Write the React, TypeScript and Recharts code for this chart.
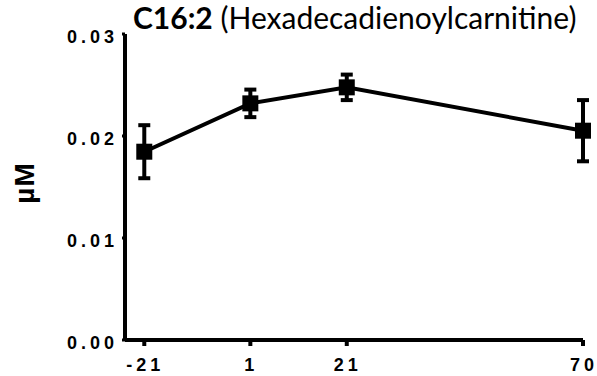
import { LineChart, Line, XAxis, YAxis, ErrorBar } from 'recharts';

const days = [-21, 1, 21, 70];
const means = [0.01846, 0.0232, 0.02477, 0.02052];
const errors = [0.0026, 0.00135, 0.00125, 0.003];

const xTicks = [-21, 1, 21, 70];
const yTicks = [0, 0.01, 0.02, 0.03];

const data = days.map((d, i) => ({ day: d, value: means[i], err: errors[i] }));

const SquareDot = (props: any) => {
  const { cx, cy } = props;
  if (cx == null || cy == null) return null;
  return <rect x={cx - 8} y={cy - 8} width={16} height={16} fill="#000" />;
};

const FONT = 'Liberation Sans, Arial, sans-serif';

const XTick = (props: any) => {
  const { x, y, payload } = props;
  return (
    <text
      x={x + 1}
      y={y + 23}
      textAnchor="middle"
      fontFamily={FONT}
      fontWeight={700}
      fontSize={18}
      letterSpacing={4}
      fill="#000"
    >
      {payload.value}
    </text>
  );
};

const YTick = (props: any) => {
  const { x, y, payload } = props;
  return (
    <text
      x={x - 2}
      y={y + 9}
      textAnchor="end"
      fontFamily={FONT}
      fontWeight={700}
      fontSize={18}
      letterSpacing={4}
      fill="#000"
    >
      {Number(payload.value).toFixed(2)}
    </text>
  );
};

export default function App() {
  return (
    <div style={{ position: 'absolute', left: 0, top: 0, width: 597, height: 376, background: '#fff' }}>
      <div
        style={{
          position: 'absolute',
          left: 133,
          top: -1,
          fontFamily: 'Lato, sans-serif',
          fontSize: 30,
          lineHeight: '36px',
          color: '#000',
          whiteSpace: 'nowrap',
        }}
      >
        <b>C16:2</b> (Hexadecadienoylcarnitine)
      </div>
      <div
        style={{
          position: 'absolute',
          left: 25,
          top: 183,
          transform: 'translate(-50%, -50%) rotate(-90deg)',
          fontFamily: FONT,
          fontWeight: 700,
          fontSize: 28,
          letterSpacing: 1,
          whiteSpace: 'nowrap',
        }}
      >
        µM
      </div>
      <LineChart width={597} height={376} data={data} margin={{ top: 34, right: 14, bottom: 0, left: 0 }}>
        <XAxis
          dataKey="day"
          type="number"
          domain={[-25, 70]}
          ticks={xTicks}
          height={36}
          axisLine={{ stroke: '#000', strokeWidth: 4 }}
          tickLine={{ stroke: '#000', strokeWidth: 4 }}
          tickSize={6}
          tick={<XTick />}
        />
        <YAxis
          type="number"
          domain={[0, 0.03]}
          ticks={yTicks}
          width={125}
          axisLine={{ stroke: '#000', strokeWidth: 4 }}
          tickLine={{ stroke: '#000', strokeWidth: 3 }}
          tickSize={3}
          tick={<YTick />}
        />
        <Line
          dataKey="value"
          stroke="#000"
          strokeWidth={4}
          dot={<SquareDot />}
          activeDot={false}
          isAnimationActive={false}
        >
          <ErrorBar dataKey="err" direction="y" width={6} stroke="#000" strokeWidth={4} isAnimationActive={false} />
        </Line>
      </LineChart>
    </div>
  );
}
